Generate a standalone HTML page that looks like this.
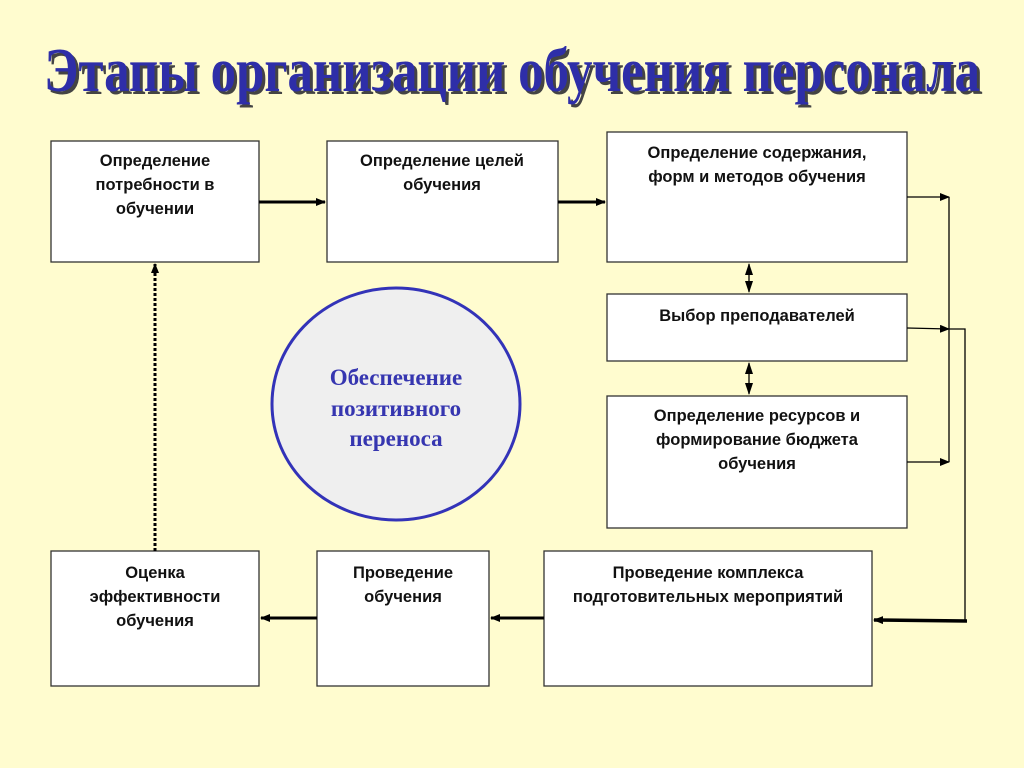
<!DOCTYPE html>
<html><head><meta charset="utf-8"><style>
html,body{margin:0;padding:0;background:#FFFCCF;}
svg{display:block}
.b{fill:#fff;stroke:#333;stroke-width:1.3}
.t{font-family:"Liberation Sans","Noto Sans CJK SC",sans-serif;font-weight:bold;font-size:16.5px;fill:#111;text-anchor:middle}
</style></head><body>
<svg width="1024" height="768" viewBox="0 0 1024 768">
<defs>
<marker id="a" markerWidth="10" markerHeight="8" refX="9" refY="4" orient="auto" markerUnits="userSpaceOnUse"><path d="M0,0 L10,4 L0,8 Z" fill="#000"/></marker>
<marker id="as" markerWidth="12" markerHeight="8" refX="11" refY="4" orient="auto-start-reverse" markerUnits="userSpaceOnUse"><path d="M0,0 L12,4 L0,8 Z" fill="#000"/></marker>
</defs>
<rect width="1024" height="768" fill="#FFFCCF"/>
<g font-family="Liberation Serif, serif" font-weight="bold" font-size="62" text-anchor="middle">
<text x="515" y="94" fill="#444" textLength="936" lengthAdjust="spacingAndGlyphs">Этапы организации обучения персонала</text>
<text x="512" y="91" fill="#2E2EA8" textLength="936" lengthAdjust="spacingAndGlyphs">Этапы организации обучения персонала</text>
</g>
<rect class="b" x="51" y="141" width="208" height="121"/>
<rect class="b" x="327" y="141" width="231" height="121"/>
<rect class="b" x="607" y="132" width="300" height="130"/>
<rect class="b" x="607" y="294" width="300" height="67"/>
<rect class="b" x="607" y="396" width="300" height="132"/>
<rect class="b" x="51" y="551" width="208" height="135"/>
<rect class="b" x="317" y="551" width="172" height="135"/>
<rect class="b" x="544" y="551" width="328" height="135"/>
<text class="t"><tspan x="155" y="166">Определение</tspan><tspan x="155" y="190">потребности в</tspan><tspan x="155" y="214">обучении</tspan></text>
<text class="t"><tspan x="442" y="166">Определение целей</tspan><tspan x="442" y="190">обучения</tspan></text>
<text class="t"><tspan x="757" y="158">Определение содержания,</tspan><tspan x="757" y="182">форм и методов обучения</tspan></text>
<text class="t"><tspan x="757" y="321">Выбор преподавателей</tspan></text>
<text class="t"><tspan x="757" y="421">Определение ресурсов и</tspan><tspan x="757" y="445">формирование бюджета</tspan><tspan x="757" y="469">обучения</tspan></text>
<text class="t"><tspan x="155" y="578">Оценка</tspan><tspan x="155" y="602">эффективности</tspan><tspan x="155" y="626">обучения</tspan></text>
<text class="t"><tspan x="403" y="578">Проведение</tspan><tspan x="403" y="602">обучения</tspan></text>
<text class="t"><tspan x="708" y="578">Проведение комплекса</tspan><tspan x="708" y="602">подготовительных мероприятий</tspan></text>
<ellipse cx="396" cy="404" rx="124" ry="116" fill="#EFEFEF" stroke="#3333B8" stroke-width="3"/>
<g font-family="Liberation Serif, serif" font-weight="bold" font-size="23" fill="#3636B0" text-anchor="middle">
<text x="396" y="385">Обеспечение</text><text x="396" y="416">позитивного</text><text x="396" y="446">переноса</text></g>
<g stroke="#000" fill="none">
<line x1="259" y1="202" x2="325" y2="202" stroke-width="3" marker-end="url(#a)"/>
<line x1="558" y1="202" x2="605" y2="202" stroke-width="3" marker-end="url(#a)"/>
<line x1="749" y1="264" x2="749" y2="292" stroke-width="1.3" marker-start="url(#as)" marker-end="url(#as)"/>
<line x1="749" y1="363" x2="749" y2="394" stroke-width="1.3" marker-start="url(#as)" marker-end="url(#as)"/>
<line x1="907" y1="197" x2="949" y2="197" stroke-width="1.3" marker-end="url(#a)"/>
<line x1="907" y1="328" x2="949" y2="329" stroke-width="1.3" marker-end="url(#a)"/>
<line x1="907" y1="462" x2="949" y2="462" stroke-width="1.3" marker-end="url(#a)"/>
<line x1="949" y1="197" x2="949" y2="462" stroke-width="1.3"/>
<polyline points="949,329 965,329 965,620" stroke-width="1.3"/>
<line x1="967" y1="621" x2="874" y2="620" stroke-width="3.5" marker-end="url(#a)"/>
<line x1="544" y1="618" x2="491" y2="618" stroke-width="3" marker-end="url(#a)"/>
<line x1="317" y1="618" x2="261" y2="618" stroke-width="3" marker-end="url(#a)"/>
<line x1="155" y1="551" x2="155" y2="264" stroke-width="3" stroke-dasharray="3,2" marker-end="url(#a)"/>
</g>
</svg>
</body></html>
